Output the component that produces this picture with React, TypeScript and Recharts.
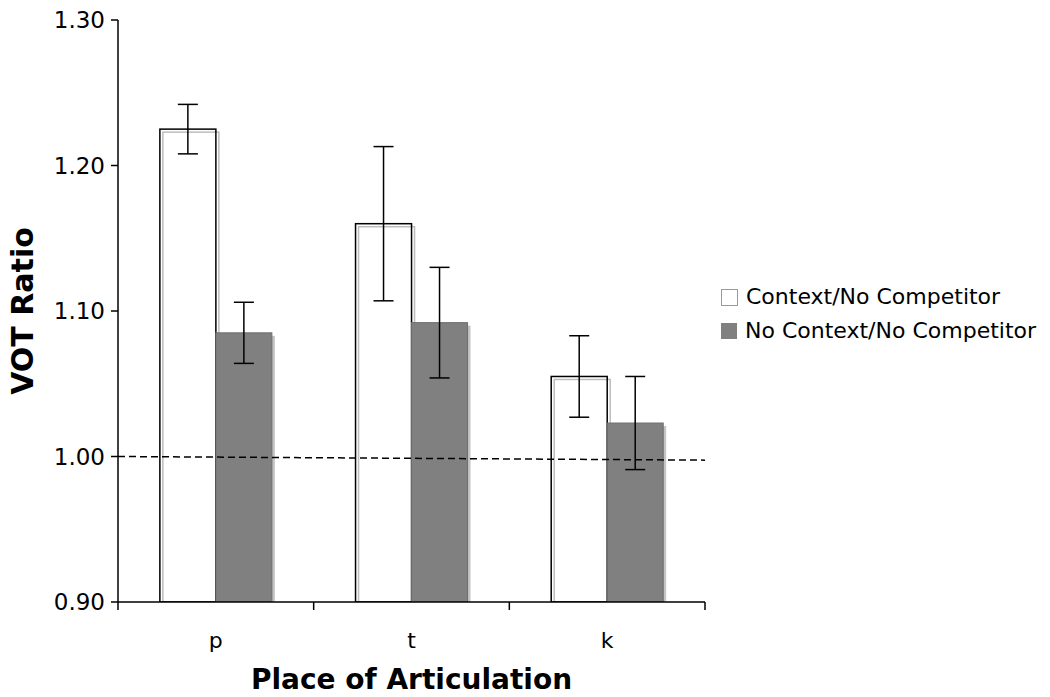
import React from "react";
import {
  ComposedChart,
  Bar,
  XAxis,
  YAxis,
  ErrorBar,
  ReferenceLine,
  Legend,
} from "recharts";

const categories = ["p", "t", "k"];
const contextValues = [1.225, 1.16, 1.055];
const contextErrors = [0.017, 0.053, 0.028];
const noContextValues = [1.085, 1.092, 1.023];
const noContextErrors = [0.021, 0.038, 0.032];
const yTicks = [0.9, 1.0, 1.1, 1.2, 1.3];
const baselineStart = 1.0;
const baselineEnd = 0.9975;

const data = categories.map((c, i) => ({
  cat: c,
  pos: i,
  ctx: contextValues[i],
  ctxErr: contextErrors[i],
  noctx: noContextValues[i],
  noctxErr: noContextErrors[i],
}));

const FONT = "DejaVu Sans, Verdana, sans-serif";

const CtxShape = (props: any) => {
  const { x, y, width, height } = props;
  return (
    <g>
      <rect x={x + 3} y={y + 3} width={width} height={Math.max(0, height - 3)} fill="none" stroke="#bdbdbd" strokeWidth={1.5} />
      <rect x={x} y={y} width={width} height={height} fill="none" stroke="#000" strokeWidth={1.5} />
    </g>
  );
};

const NoCtxShape = (props: any) => {
  const { x, y, width, height } = props;
  return (
    <g>
      <rect x={x + 3} y={y + 3} width={width} height={Math.max(0, height - 3)} fill="#c4c4c4" />
      <rect x={x} y={y} width={width} height={height} fill="#808080" stroke="#6e6e6e" strokeWidth={1} />
    </g>
  );
};

const XTick = (props: any) => {
  const { x, y, payload, index, visibleTicksCount, width } = props;
  let off = payload && typeof payload.offset === "number" && payload.offset > 0 ? payload.offset : undefined;
  if (off === undefined) off = width && visibleTicksCount ? width / visibleTicksCount / 2 : 97.8;
  return (
    <g>
      <line x1={x - off} x2={x - off} y1={y} y2={y + 8} stroke="#000" strokeWidth={1.5} />
      {index === (visibleTicksCount || 3) - 1 && (
        <line x1={x + off} x2={x + off} y1={y} y2={y + 8} stroke="#000" strokeWidth={1.5} />
      )}
      <text x={x} y={y + 38} textAnchor="middle" dominantBaseline="central" fontSize={22} fontFamily={FONT} fill="#000">
        {payload.value}
      </text>
    </g>
  );
};

const LegendContent = () => (
  <div style={{ fontFamily: FONT, fontSize: 22, color: "#000", lineHeight: "34px" }}>
    <div style={{ display: "flex", alignItems: "center", whiteSpace: "nowrap" }}>
      <span style={{ display: "inline-block", width: 15, height: 15, border: "1px solid #9a9a9a", background: "#fff", marginRight: 8 }} />
      Context/No Competitor
    </div>
    <div style={{ display: "flex", alignItems: "center", whiteSpace: "nowrap" }}>
      <span style={{ display: "inline-block", width: 16, height: 16, background: "#808080", marginRight: 8 }} />
      No Context/No Competitor
    </div>
  </div>
);

export default function App() {
  return (
    <div style={{ position: "absolute", left: 0, top: 0, width: 1050, height: 697, background: "#fff" }}>
      <ComposedChart
        width={1050}
        height={697}
        data={data}
        margin={{ top: 20, right: 345, bottom: 0, left: 0 }}
        barCategoryGap="21.4%"
        barGap={0}
      >
        <XAxis
          dataKey="cat"
          height={95}
          axisLine={{ stroke: "#000", strokeWidth: 1.5 }}
          tickLine={false}
          tickSize={0}
          tickMargin={0}
          tick={<XTick />}
          interval={0}
          label={{
            content: (p: any) => {
              const vb = p.viewBox;
              return (
                <text
                  x={vb.x + vb.width / 2}
                  y={vb.y + 77}
                  textAnchor="middle"
                  dominantBaseline="central"
                  fontSize={28}
                  fontWeight="bold"
                  fontFamily={FONT}
                  fill="#000"
                >
                  Place of Articulation
                </text>
              );
            },
          }}
        />
        <XAxis xAxisId="n" dataKey="pos" type="number" domain={[0, 3]} allowDataOverflow hide />
        <YAxis
          width={118}
          domain={[0.9, 1.3]}
          ticks={yTicks}
          allowDataOverflow
          tickFormatter={(v: number) => v.toFixed(2)}
          axisLine={{ stroke: "#000", strokeWidth: 1.5 }}
          tickLine={{ stroke: "#000", strokeWidth: 1.5 }}
          tickSize={7}
          tickMargin={6}
          tick={{ fontSize: 23, fontFamily: FONT, fill: "#000" }}
          label={{
            content: (p: any) => {
              const vb = p.viewBox;
              const cx = vb.x + 22;
              const cy = vb.y + vb.height / 2;
              return (
                <text
                  x={cx}
                  y={cy}
                  transform={`rotate(-90 ${cx} ${cy})`}
                  textAnchor="middle"
                  dominantBaseline="central"
                  fontSize={30}
                  fontWeight="bold"
                  fontFamily={FONT}
                  fill="#000"
                >
                  VOT Ratio
                </text>
              );
            },
          }}
        />
        <Bar dataKey="ctx" name="Context/No Competitor" shape={<CtxShape />} isAnimationActive={false}>
          <ErrorBar dataKey="ctxErr" width={10} stroke="#000" strokeWidth={1.5} />
        </Bar>
        <Bar dataKey="noctx" name="No Context/No Competitor" shape={<NoCtxShape />} isAnimationActive={false}>
          <ErrorBar dataKey="noctxErr" width={10} stroke="#000" strokeWidth={1.5} />
        </Bar>
        <ReferenceLine
          xAxisId="n"
          segment={[
            { x: 0, y: baselineStart },
            { x: 3, y: baselineEnd },
          ]}
          stroke="#000"
          strokeWidth={1.5}
          strokeDasharray="7 4"
          ifOverflow="hidden"
        />
        <Legend
          layout="vertical"
          align="center"
          verticalAlign="middle"
          content={<LegendContent />}
          wrapperStyle={{ left: 721, top: 280, width: 329 }}
        />
      </ComposedChart>
    </div>
  );
}
